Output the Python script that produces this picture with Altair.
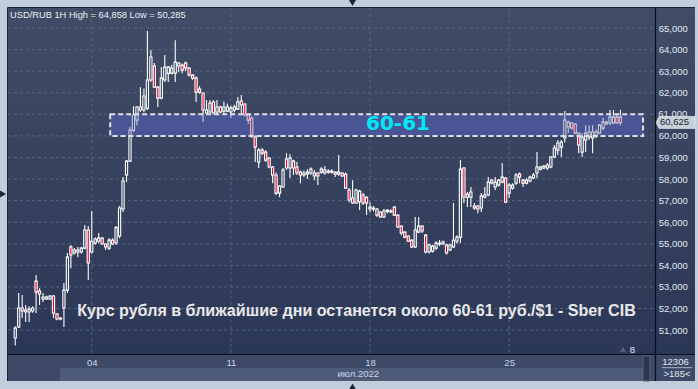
import altair as alt
import pandas as pd

# Hourly USD/RUB candles (rubles per dollar), oldest first
opens = [
    50.63, 51.14, 52.02, 51.84, 51.84, 51.88, 53.27, 52.81, 52.44, 52.44,
    52.44, 52.58, 51.75, 51.56, 52.02, 52.85, 54.85, 54.57, 54.62, 54.62,
    54.80, 55.64, 54.62, 55.03, 55.12, 55.26, 54.99, 54.80, 55.17, 55.05,
    55.36, 56.61, 58.19, 58.83, 60.27, 60.73, 61.20, 61.20, 61.29, 62.59,
    63.24, 62.26, 61.75, 62.59, 62.90, 62.91, 62.91, 63.24, 63.28, 63.38,
    63.15, 62.82, 62.68, 62.17, 61.99, 61.06, 61.11, 61.57, 61.11, 61.34,
    61.15, 61.15, 61.11, 61.20, 61.24, 61.62, 61.48, 60.97, 60.83, 59.95,
    58.79, 59.34, 59.25, 58.97, 58.56, 58.19, 57.35, 57.63, 58.93, 58.51,
    58.83, 58.56, 58.32, 58.19, 58.23, 58.28, 58.14, 58.28, 58.32, 58.28,
    58.32, 58.37, 58.32, 58.23, 58.28, 58.23, 57.49, 57.12, 56.89, 56.95,
    57.26, 57.16, 56.70, 56.61, 56.33, 56.47, 56.24, 56.50, 56.47, 56.70,
    56.33, 55.82, 55.54, 55.36, 55.17, 54.85, 55.54, 55.82, 55.40, 54.62,
    54.66, 54.80, 54.99, 54.99, 54.94, 54.71, 54.85, 55.12, 55.31, 58.51,
    57.16, 57.16, 56.66, 56.75, 56.66, 57.16, 57.26, 57.81, 57.63, 57.72,
    57.86, 58.05, 57.35, 57.58, 57.81, 58.23, 57.95, 57.81, 57.91, 58.05,
    58.28, 58.46, 58.51, 58.51, 58.56, 59.02, 59.34, 59.48, 59.90, 60.41,
    60.60, 60.55, 60.13, 59.25, 59.81, 59.95, 59.90, 60.00, 60.13, 60.36,
    60.55, 60.60, 60.60, 60.87, 60.87,
]
highs = [
    51.18, 52.72, 52.62, 52.16, 52.10, 52.10, 53.55, 52.94, 52.72, 52.60,
    52.62, 52.62, 51.76, 51.58, 53.18, 54.57, 54.94, 54.80, 54.85, 54.85,
    55.87, 55.82, 56.52, 55.30, 55.50, 55.30, 55.00, 55.26, 55.26, 55.82,
    56.75, 58.09, 58.88, 60.41, 61.38, 61.38, 62.26, 62.20, 64.858, 63.98,
    63.38, 62.31, 63.19, 63.75, 63.24, 63.30, 64.44, 63.42, 63.36, 63.45,
    63.20, 62.86, 62.77, 62.30, 62.00, 61.66, 61.66, 61.66, 61.66, 61.40,
    61.60, 61.50, 61.40, 61.45, 61.80, 61.90, 61.50, 61.00, 60.90, 60.04,
    59.44, 59.44, 59.34, 59.00, 58.60, 58.30, 57.72, 58.51, 59.20, 59.16,
    58.90, 58.79, 58.40, 58.40, 58.45, 58.55, 58.42, 58.32, 58.56, 58.60,
    58.45, 58.45, 58.35, 59.11, 58.30, 58.30, 57.58, 57.95, 57.55, 57.50,
    57.35, 57.20, 56.93, 56.75, 56.66, 56.50, 56.61, 56.60, 56.60, 56.75,
    56.35, 55.85, 55.58, 55.40, 55.20, 56.24, 56.24, 55.85, 55.45, 55.00,
    54.95, 55.12, 55.17, 55.15, 55.00, 55.00, 56.89, 55.40, 58.88, 58.56,
    57.40, 57.63, 56.89, 56.80, 57.35, 57.63, 58.09, 58.00, 58.09, 58.00,
    58.74, 58.10, 57.81, 57.80, 58.28, 58.30, 58.00, 58.05, 58.15, 58.28,
    59.25, 58.60, 58.65, 58.74, 59.07, 59.58, 59.81, 59.81, 61.15, 60.70,
    60.65, 60.60, 60.15, 60.13, 60.50, 60.50, 60.50, 60.30, 60.55, 60.83,
    60.70, 61.20, 61.20, 60.97, 61.20,
]
lows = [
    50.285, 51.09, 51.56, 51.37, 51.37, 51.80, 51.79, 52.16, 52.30, 52.40,
    52.39, 51.56, 51.45, 51.46, 51.14, 52.72, 53.87, 54.50, 54.38, 54.55,
    54.75, 53.32, 54.55, 54.95, 55.03, 54.95, 54.71, 54.71, 54.94, 54.94,
    55.26, 56.47, 57.86, 58.79, 60.18, 60.50, 61.11, 61.10, 61.20, 62.50,
    62.22, 61.34, 61.70, 62.50, 62.50, 62.85, 62.50, 62.95, 62.90, 63.00,
    62.75, 62.60, 61.57, 61.95, 60.64, 60.97, 61.06, 61.00, 61.00, 61.05,
    61.00, 61.10, 60.83, 61.10, 61.20, 61.06, 60.90, 60.55, 59.90, 58.79,
    58.51, 59.10, 58.79, 58.50, 57.81, 57.26, 57.16, 57.60, 58.42, 58.05,
    58.19, 58.20, 57.81, 58.10, 58.00, 58.20, 57.95, 57.72, 58.25, 58.20,
    58.25, 58.25, 58.09, 58.15, 58.10, 57.55, 56.93, 56.85, 56.84, 56.56,
    56.80, 56.33, 56.47, 56.50, 56.24, 56.20, 56.19, 56.40, 56.45, 56.30,
    55.73, 55.40, 55.26, 55.08, 54.80, 54.80, 55.50, 55.50, 54.55, 54.55,
    54.60, 54.71, 54.90, 54.95, 54.50, 54.65, 54.80, 55.00, 55.03, 56.89,
    56.70, 56.70, 56.56, 56.42, 56.47, 57.10, 57.20, 57.75, 57.49, 57.65,
    57.80, 56.89, 57.12, 57.50, 57.72, 57.81, 57.63, 57.75, 57.85, 58.00,
    58.05, 58.40, 58.45, 58.42, 58.50, 58.97, 59.11, 59.02, 59.70, 60.13,
    60.30, 60.10, 59.20, 59.02, 59.25, 59.81, 59.20, 59.90, 60.10, 60.27,
    60.50, 60.50, 60.55, 60.55, 60.50,
]
closes = [
    51.09, 52.02, 51.88, 51.93, 51.97, 52.02, 52.76, 52.67, 52.53, 52.53,
    52.58, 51.79, 51.51, 51.51, 52.85, 54.38, 54.48, 54.71, 54.71, 54.80,
    55.64, 54.11, 55.12, 55.22, 55.26, 54.99, 54.85, 55.17, 54.99, 55.75,
    56.66, 57.91, 58.83, 60.27, 60.97, 61.34, 61.34, 61.85, 62.59, 63.66,
    62.26, 61.75, 62.68, 63.19, 63.19, 63.15, 63.42, 63.38, 63.05, 63.15,
    62.82, 62.68, 62.03, 62.03, 61.20, 61.20, 61.52, 61.06, 61.34, 61.11,
    61.34, 61.34, 61.29, 61.34, 61.57, 61.43, 60.97, 60.73, 60.04, 59.48,
    59.34, 59.20, 58.88, 58.56, 58.19, 57.35, 57.68, 58.42, 58.51, 58.97,
    58.51, 58.28, 58.19, 58.28, 58.32, 58.46, 58.28, 58.14, 58.46, 58.42,
    58.37, 58.32, 58.23, 58.32, 58.14, 57.58, 57.03, 56.89, 57.49, 57.44,
    56.89, 56.89, 56.61, 56.66, 56.61, 56.24, 56.52, 56.56, 56.52, 56.33,
    55.78, 55.50, 55.31, 55.12, 54.85, 55.64, 55.82, 55.59, 54.62, 54.94,
    54.89, 55.03, 55.03, 55.08, 54.57, 54.94, 55.17, 55.31, 58.46, 57.16,
    57.30, 57.40, 56.75, 56.61, 57.21, 57.26, 57.86, 57.95, 57.86, 57.95,
    58.09, 56.93, 57.72, 57.72, 58.19, 58.09, 57.81, 57.95, 58.09, 58.19,
    58.56, 58.56, 58.60, 58.65, 59.02, 59.44, 59.67, 59.71, 60.73, 60.64,
    60.36, 60.13, 59.58, 59.95, 60.13, 60.18, 60.18, 60.18, 60.50, 60.64,
    60.64, 60.87, 60.87, 60.60, 60.625,
]

# Calendar labels: first hourly bar of each Monday, July 2022
week_index = [22, 62, 102, 142]
week_labels = ["04", "11", "18", "25"]
month_label = "июл.2022"

price_ticks = list(range(51, 66))

# Highlighted 60-61 rub range
zone_low, zone_high = 60.0, 61.0
zone_start, zone_end = 27.3, 180.5
zone_label = "60-61"

caption = "Курс рубля в ближайшие дни останется около 60-61 руб./$1 - Sber CIB"
bars_total = "12306"
bars_visible = ">185<"
volume_marker = "8"

FONT = "Liberation Sans"
W, H = 647, 346          # plot area
PANEL_W = 687            # plot + price panel
PANEL_H = 373            # plot + date panel


def ru_num(v):
    return f"{v:.3f}".replace(".", ",")


candles = pd.DataFrame({
    "i": range(len(opens)),
    "open": opens, "high": highs, "low": lows, "close": closes,
})
last_close = closes[-1]

xs = alt.Scale(domain=[-0.64, 182.5], nice=False, zero=False)
ys = alt.Scale(domain=[49.89, 65.93], nice=False, zero=False)

x_axis = alt.Axis(
    values=week_index,
    labelExpr=f"{week_labels}[indexof({week_index}, datum.value)]",
    grid=False, domain=False, ticks=False, title=None,
    labelPadding=11.5, labelBaseline="alphabetic",
    labelColor="#c6d6ef", labelFont=FONT, labelFontSize=9.5, zindex=1,
)
y_axis = alt.Axis(
    values=price_ticks, orient="right",
    labelExpr=(f"abs(datum.value - {last_close}) < 0.5 ? '' : "
               "replace(format(datum.value, '.3f'), '.', ',')"),
    grid=False, domain=False, ticks=False, title=None,
    labelPadding=3.3, labelColor="#e2e9f2", labelFont=FONT,
    labelFontSize=9.5, zindex=1,
)

X = alt.X("i:Q", scale=xs, axis=x_axis)
one = pd.DataFrame({"k": [0]})


def panel_rect(x0, x1, y0, y1, **kw):
    return alt.Chart(one).mark_rect(**kw).encode(
        x=alt.value(x0), x2=alt.value(x1), y=alt.value(y0), y2=alt.value(y1))


def pixel_text(text, x, y, font=FONT, **kw):
    return alt.Chart(pd.DataFrame({"t": [text]})).mark_text(font=font, **kw).encode(
        x=alt.value(x), y=alt.value(y), text="t:N")


gradient = alt.LinearGradient(
    gradient="linear",
    stops=[alt.GradientStop(color="#414c66", offset=0),
           alt.GradientStop(color="#2b3756", offset=1)],
    x1=0, x2=0, y1=0, y2=1,
)

background = panel_rect(0, PANEL_W, 0, H, color=gradient)
date_band = panel_rect(0, PANEL_W, H, PANEL_H, color="#3d4966")
scroll_band = panel_rect(52, 635, 360, PANEL_H, color="#4e5b78")
scroll_thumb = panel_rect(635, 642, 348, PANEL_H, color="#2b3550",
                          stroke="#56637e", strokeWidth=1)

hgrid = alt.Chart(pd.DataFrame({"v": price_ticks})).mark_rule(
    color="#56647f", strokeDash=[3, 3], strokeWidth=1
).encode(y=alt.Y("v:Q", scale=ys, axis=y_axis), x=alt.value(0), x2=alt.value(W))

vgrid = alt.Chart(pd.DataFrame({"i": week_index})).mark_rule(
    color="#56647f", strokeDash=[3, 3], strokeWidth=1
).encode(x=X, y=alt.value(0), y2=alt.value(H))

zone = pd.DataFrame({"x0": [zone_start], "x1": [zone_end],
                     "y0": [zone_low], "y1": [zone_high]})
zone_enc = dict(
    x=alt.X("x0:Q", scale=xs, axis=x_axis), x2="x1:Q",
    y=alt.Y("y0:Q", scale=ys, axis=y_axis), y2="y1:Q",
)
zone_fill = alt.Chart(zone).mark_rect(color="#4a5594").encode(**zone_enc)
zone_tint = alt.Chart(zone).mark_rect(color="#4a5594", opacity=0.3).encode(**zone_enc)
zone_border = alt.Chart(zone).mark_rect(
    fillOpacity=0, stroke="#e2e2e6", strokeWidth=2, strokeDash=[5, 3]
).encode(**zone_enc)

wicks = alt.Chart(candles).mark_rule(color="white", strokeWidth=1.1).encode(
    x=X, y=alt.Y("low:Q", scale=ys, axis=y_axis), y2="high:Q")

bodies = alt.Chart(candles).mark_bar(width=2.2, stroke="white", strokeWidth=1.1).encode(
    x=X,
    y=alt.Y("open:Q", scale=ys, axis=y_axis), y2="close:Q",
    fill=alt.condition("datum.close >= datum.open",
                       alt.value("#34405c"), alt.value("#e3002b")),
)

# Price tag for the last close, drawn over the tick label it hides
covered = [v for v in price_ticks if abs(v - last_close) < 0.5]
covered_labels = alt.Chart(pd.DataFrame({"v": covered, "t": [ru_num(v) for v in covered]})).mark_text(
    font=FONT, fontSize=9.5, color="#e2e9f2", align="left", baseline="middle"
).encode(y=alt.Y("v:Q", scale=ys, axis=y_axis), x=alt.value(650.3), text="t:N")

tag_df = pd.DataFrame({"v": [last_close], "t": [ru_num(last_close)]})
tag_shape = "M-0.975,0 L-0.825,-0.3 L0.975,-0.3 L0.975,0.3 L-0.825,0.3 Z"
tag = alt.Chart(tag_df).mark_point(
    shape=tag_shape, size=1600, filled=True, fill="#c7cfd8", stroke="#eef2f6",
    strokeWidth=0.6, opacity=1
).encode(y=alt.Y("v:Q", scale=ys, axis=y_axis), x=alt.value(667.5))
tag_text = alt.Chart(tag_df).mark_text(
    font=FONT, fontSize=9.5, color="#1b2232", align="left", baseline="middle"
).encode(y=alt.Y("v:Q", scale=ys, axis=y_axis), x=alt.value(652), text="t:N")

# Frame lines
axis_v = alt.Chart(one).mark_rule(color="#0a0e16", strokeWidth=1.2).encode(
    x=alt.value(647.5), y=alt.value(0), y2=alt.value(PANEL_H))
axis_h = alt.Chart(one).mark_rule(color="#0a0e16", strokeWidth=1.2).encode(
    y=alt.value(346.5), x=alt.value(0), x2=alt.value(PANEL_W))
frame_top = alt.Chart(one).mark_rule(color="#1c2331", strokeWidth=1).encode(
    y=alt.value(-0.5), x=alt.value(-0.5), x2=alt.value(PANEL_W))
frame_left = alt.Chart(one).mark_rule(color="#1c2331", strokeWidth=1).encode(
    x=alt.value(-0.5), y=alt.value(-0.5), y2=alt.value(PANEL_H))
status_sep = alt.Chart(one).mark_rule(color="#aab4c4", strokeWidth=1).encode(
    y=alt.value(359.7), x=alt.value(653.7), x2=alt.value(684.3))

hi, lo = max(highs), min(lows)
title = pixel_text(f"USD/RUB 1H High = {ru_num(hi)} Low = {ru_num(lo)}", 2, 10.3,
                   fontSize=9.3, color="#eaf0f6", align="left", baseline="alphabetic")
caption_text = pixel_text(caption, 348.5, 307.5, fontSize=16.1, fontWeight="bold",
                          color="#e8e8ea", align="center", baseline="alphabetic")
zone_text = pixel_text(zone_label, 390, 122, font="DejaVu Sans", fontSize=20,
                       fontWeight="bold", color="#00e8f4", align="center",
                       baseline="alphabetic")
month_text = pixel_text(month_label, 350.3, 369, fontSize=9.5, color="#cad5e8",
                        align="center", baseline="alphabetic")
total_text = pixel_text(bars_total, 667.5, 357, fontSize=9.5, color="#e2e9f2",
                        align="center", baseline="alphabetic")
visible_text = pixel_text(bars_visible, 669, 369, fontSize=9.5, color="#e2e9f2",
                          align="center", baseline="alphabetic")
vol_text = pixel_text(volume_marker, 624.5, 344.7, fontSize=9.5, color="#e2e9f2",
                      align="center", baseline="alphabetic")

vol_tri = alt.Chart(one).mark_point(shape="triangle-up", size=40, filled=True,
                                    color="#59606f", opacity=1).encode(
    x=alt.value(615), y=alt.value(341.5))
tri_top = alt.Chart(one).mark_point(shape="triangle-down", size=50, filled=True,
                                    color="#1d2535", opacity=1).encode(
    x=alt.value(344.5), y=alt.value(-5))
tri_left = alt.Chart(one).mark_point(shape="triangle-right", size=50, filled=True,
                                     color="#1d2535", opacity=1).encode(
    x=alt.value(-5), y=alt.value(186))
tri_bottom = alt.Chart(one).mark_point(shape="triangle-up", size=50, filled=True,
                                       color="#1d2535", opacity=1).encode(
    x=alt.value(344.5), y=alt.value(378.5))

chart = alt.layer(
    background, date_band, scroll_band, scroll_thumb,
    hgrid, vgrid, zone_fill, wicks, bodies, zone_tint, zone_border,
    covered_labels, tag, tag_text,
    axis_v, axis_h, frame_top, frame_left, status_sep,
    title, caption_text, zone_text, month_text, total_text, visible_text,
    vol_text, vol_tri, tri_top, tri_left, tri_bottom,
).properties(
    width=W, height=H,
    padding={"left": 8, "top": 8, "right": 43, "bottom": 35},
    autosize=alt.AutoSizeParams(type="none"),
    background="#c1cdda",
).configure_view(strokeWidth=0)

chart.save("out.html", embed_options={"renderer": "svg", "actions": False})
